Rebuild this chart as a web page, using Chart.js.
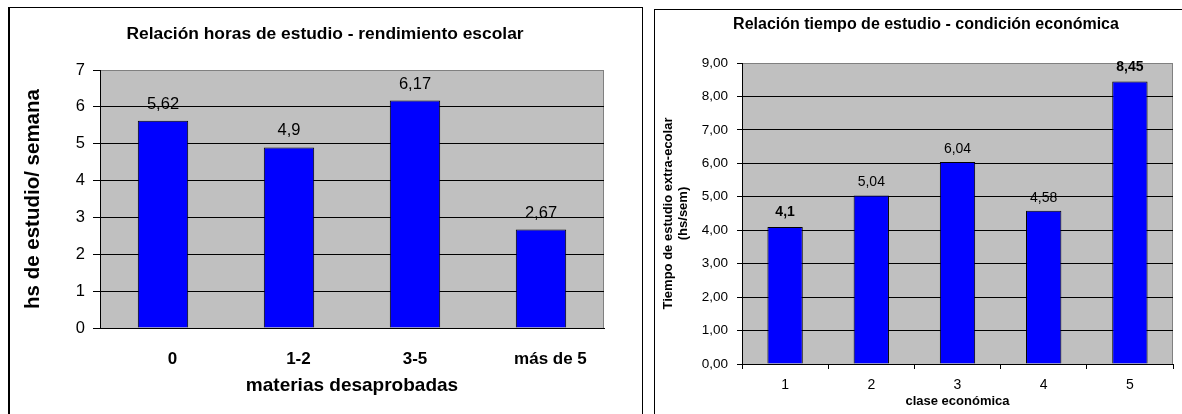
<!DOCTYPE html>
<html>
<head>
<meta charset="utf-8">
<script src="https://cdn.jsdelivr.net/npm/chart.js@4.4.1/dist/chart.umd.min.js"></script>
<style>
  html, body { margin: 0; padding: 0; background: #fff; overflow: hidden; width: 1182px; height: 414px; }
  .panel { position: absolute; box-sizing: border-box; border: 1px solid #000; }
  #p1 { left: 8px; top: 7px; width: 635px; height: 430px; border-left-width: 2px; }
  #p2 { left: 654px; top: 9px; width: 560px; height: 430px; }
  canvas { position: absolute; top: 0; }
  #c1 { left: 0; }
  #c2 { left: 654px; }
</style>
</head>
<body>
<div class="panel" id="p1"></div>
<div class="panel" id="p2"></div>
<canvas id="c1" width="650" height="414"></canvas>
<canvas id="c2" width="544" height="414"></canvas>
<script>
const FONT = '"Liberation Sans", Arial, Helvetica, sans-serif';

// Horas de estudio semanales según materias desaprobadas
const materiasLabels = ['    0', '    1-2', '3-5', '    más de 5'];
const horasEstudio = [5.62, 4.9, 6.17, 2.67];
const horasTicks = ['0', '1', '2', '3', '4', '5', '6', '7'];

// Tiempo de estudio extra-escolar según clase económica
const claseLabels = ['1', '2', '3', '4', '5'];
const tiempoEstudio = [4.1, 5.04, 6.04, 4.58, 8.45];
const tiempoDestacado = [true, false, false, false, true];
const tiempoTicks = ['0,00', '1,00', '2,00', '3,00', '4,00', '5,00', '6,00', '7,00', '8,00', '9,00'];

// Grey plot background with a grey right edge
const plotArea = {
  id: 'plotArea',
  beforeDraw(chart) {
    const { ctx, chartArea: a } = chart;
    ctx.save();
    ctx.fillStyle = '#C0C0C0';
    ctx.fillRect(a.left, a.top, a.right - a.left, a.bottom - a.top);
    ctx.strokeStyle = '#808080';
    ctx.lineWidth = 1;
    ctx.beginPath();
    ctx.moveTo(a.right - 0.5, a.top);
    ctx.lineTo(a.right - 0.5, a.bottom);
    ctx.stroke();
    ctx.restore();
  }
};

// Chart heading centred on the whole canvas
const panelTitle = {
  id: 'panelTitle',
  afterDraw(chart, args, opts) {
    const ctx = chart.ctx;
    ctx.save();
    ctx.font = opts.font;
    ctx.fillStyle = '#000';
    ctx.textAlign = 'center';
    ctx.textBaseline = 'middle';
    ctx.fillText(opts.text, chart.width / 2, opts.y);
    ctx.restore();
  }
};

// Value written above each bar, decimal comma
const barValues = {
  id: 'barValues',
  afterDatasetsDraw(chart, args, opts) {
    const ctx = chart.ctx;
    const meta = chart.getDatasetMeta(0);
    const data = chart.data.datasets[0].data;
    ctx.save();
    ctx.fillStyle = '#000';
    ctx.textAlign = 'center';
    ctx.textBaseline = 'alphabetic';
    meta.data.forEach((bar, i) => {
      const bold = opts.bold && opts.bold[i];
      ctx.font = (bold ? 'bold ' : '') + opts.size + 'px ' + FONT;
      ctx.fillText(String(data[i]).replace('.', ','), bar.x, bar.y - (bold ? opts.gapBold : opts.gap));
    });
    ctx.restore();
  }
};

new Chart(document.getElementById('c1'), {
  type: 'bar',
  data: {
    labels: materiasLabels,
    datasets: [{
      data: horasEstudio,
      backgroundColor: '#0000FF',
      borderColor: '#000',
      borderWidth: 1,
      barPercentage: 0.4,
      categoryPercentage: 1
    }]
  },
  options: {
    responsive: false,
    animation: false,
    devicePixelRatio: 1,
    layout: { padding: { top: 70, right: 46, left: 0, bottom: 0 } },
    plugins: {
      legend: { display: false },
      tooltip: { enabled: false },
      panelTitle: { text: 'Relación horas de estudio - rendimiento escolar', font: 'bold 17.4px ' + FONT, y: 34.5 },
      barValues: { size: 16.5, gap: 12, gapBold: 12 }
    },
    scales: {
      x: {
        afterFit(s) { s.height = 86; },
        grid: { display: false, drawTicks: false },
        border: { display: true, color: '#000', width: 1 },
        ticks: { color: '#000', font: { family: FONT, size: 17, weight: 'bold' }, padding: 20.8, maxRotation: 0, autoSkip: false },
        title: {
          display: true, text: 'materias desaprobadas', color: '#000',
          font: { family: FONT, size: 19, weight: 'bold' }, padding: { top: 0, bottom: 16.6 }
        }
      },
      y: {
        min: 0, max: 7,
        afterFit(s) { s.width = 100; },
        ticks: {
          stepSize: 1, color: '#000', font: { family: FONT, size: 16.5 }, padding: 8,
          callback: (v, i) => horasTicks[i]
        },
        grid: {
          color: c => (c.tick && c.tick.value === 7 ? '#808080' : '#000'),
          tickColor: '#000', tickLength: 7, lineWidth: 1
        },
        border: { color: '#000', width: 1 },
        title: {
          display: true, text: 'hs de estudio/ semana', color: '#000',
          font: { family: FONT, size: 20.5, weight: 'bold' }, padding: { top: 21.2, bottom: 0 }
        }
      }
    }
  },
  plugins: [plotArea, panelTitle, barValues]
});

new Chart(document.getElementById('c2'), {
  type: 'bar',
  data: {
    labels: claseLabels,
    datasets: [{
      data: tiempoEstudio,
      backgroundColor: '#0000FF',
      borderColor: '#000',
      borderWidth: 1,
      barPercentage: 0.41,
      categoryPercentage: 1
    }]
  },
  options: {
    responsive: false,
    animation: false,
    devicePixelRatio: 1,
    layout: { padding: { top: 63, right: 25, left: 0, bottom: 0 } },
    plugins: {
      legend: { display: false },
      tooltip: { enabled: false },
      panelTitle: { text: 'Relación tiempo de estudio - condición económica', font: 'bold 16px ' + FONT, y: 24.5 },
      barValues: { size: 14, gap: 9, gapBold: 10.5, bold: tiempoDestacado }
    },
    scales: {
      x: {
        afterFit(s) { s.height = 50; },
        offset: true,
        grid: { offset: true, drawOnChartArea: false, drawTicks: true, tickLength: 5, color: '#000', tickColor: '#000' },
        border: { display: true, color: '#000', width: 1 },
        ticks: { color: '#000', font: { family: FONT, size: 14 }, padding: 7.6, maxRotation: 0, autoSkip: false },
        title: {
          display: true, text: 'clase económica', color: '#000',
          font: { family: FONT, size: 13, weight: 'bold' }, padding: { top: 0, bottom: 5.2 }
        }
      },
      y: {
        min: 0, max: 9,
        afterFit(s) { s.width = 88; },
        ticks: {
          stepSize: 1, color: '#000', font: { family: FONT, size: 13.5 }, padding: 9,
          callback: (v, i) => tiempoTicks[i]
        },
        grid: {
          color: c => (c.tick && c.tick.value === 9 ? '#808080' : '#000'),
          tickColor: '#000', tickLength: 5, lineWidth: 1
        },
        border: { color: '#000', width: 1 },
        title: {
          display: true, text: ['Tiempo de estudio extra-ecolar', '(hs/sem)'], color: '#000',
          font: { family: FONT, size: 13, weight: 'bold' }, padding: { top: 6.2, bottom: 0 }
        }
      }
    }
  },
  plugins: [plotArea, panelTitle, barValues]
});
</script>
</body>
</html>
